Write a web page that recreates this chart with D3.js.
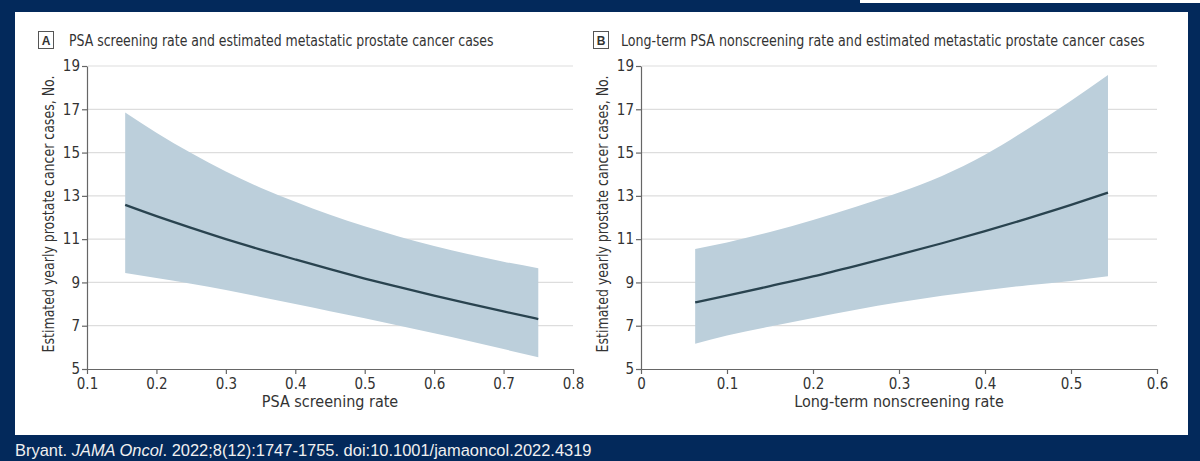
<!DOCTYPE html>
<html><head><meta charset="utf-8">
<script src="https://cdn.jsdelivr.net/npm/d3@7"></script>
<style>
html,body{margin:0;padding:0;background:#03295b;}
svg{display:block;}
.cond{font-family:"Liberation Sans Narrow","DejaVu Sans Condensed","Roboto Condensed","Open Sans",sans-serif;font-stretch:condensed;}
</style></head>
<body>
<svg id="chart" width="1200" height="461"></svg>
<script>
// ---------- data ----------
const yTicks = [5, 7, 9, 11, 13, 15, 17, 19];

const rateA  = [0.155, 0.2, 0.25, 0.3, 0.35, 0.4, 0.45, 0.5, 0.55, 0.6, 0.65, 0.7, 0.75];
const meanA  = [12.58, 12.06, 11.52, 11.0, 10.52, 10.06, 9.61, 9.18, 8.78, 8.39, 8.02, 7.66, 7.31];
const upperA = [16.85, 15.92, 14.98, 14.12, 13.38, 12.73, 12.13, 11.59, 11.11, 10.68, 10.3, 9.96, 9.66];
const lowerA = [9.43, 9.2, 8.94, 8.65, 8.33, 8.0, 7.67, 7.34, 7.0, 6.65, 6.29, 5.92, 5.54];
const xTicksA = [0.1, 0.2, 0.3, 0.4, 0.5, 0.6, 0.7, 0.8];

const rateB  = [0.063, 0.1, 0.15, 0.2, 0.25, 0.3, 0.35, 0.4, 0.45, 0.5, 0.543];
const meanB  = [8.08, 8.39, 8.83, 9.28, 9.77, 10.28, 10.81, 11.37, 11.96, 12.58, 13.15];
const upperB = [10.55, 10.85, 11.33, 11.89, 12.5, 13.15, 13.92, 14.9, 16.1, 17.4, 18.58];
const lowerB = [6.17, 6.55, 6.96, 7.36, 7.74, 8.08, 8.38, 8.64, 8.87, 9.07, 9.28];
const xTicksB = [0, 0.1, 0.2, 0.3, 0.4, 0.5, 0.6];

const titleA = "PSA screening rate and estimated metastatic prostate cancer cases";
const titleB = "Long-term PSA nonscreening rate and estimated metastatic prostate cancer cases";
const xLabelA = "PSA screening rate";
const xLabelB = "Long-term nonscreening rate";
const yLabel = "Estimated yearly prostate cancer cases, No.";
const caption = ["Bryant. ", "JAMA Oncol", ". 2022;8(12):1747-1755. doi:10.1001/jamaoncol.2022.4319"];

// ---------- drawing ----------
const svg = d3.select("#chart");
svg.append("rect").attr("x",0).attr("y",0).attr("width",1200).attr("height",461).attr("fill","#03295b");
svg.append("rect").attr("x",860).attr("y",0).attr("width",340).attr("height",3).attr("fill","#ffffff");
svg.append("rect").attr("x",15).attr("y",12).attr("width",1173).attr("height",423).attr("fill","#ffffff");

const y = d3.scaleLinear().domain([5,19]).range([369,66]);

// scale a text horizontally to a target width with a transform
function fitText(sel, x, yPos, width, rotate){
  const w = sel.node().getComputedTextLength();
  const s = width / w;
  if (rotate) sel.attr("transform", `translate(${x},${yPos}) rotate(-90) scale(${s},1)`);
  else sel.attr("transform", `translate(${x},${yPos}) scale(${s},1)`);
}

function panel(opts){
  const {x, rate, mean, upper, lower, xTicks, letter, title, titleX, titleW, boxX, xLabel, yLabelX, fmt} = opts;
  const g = svg.append("g");
  const x0 = x.range()[0], x1 = x.range()[1];

  // gridlines
  g.selectAll("line.grid").data(yTicks.slice(1)).join("line")
    .attr("x1", x0+1).attr("x2", x1).attr("y1", d=>y(d)).attr("y2", d=>y(d))
    .attr("stroke","#dddddd").attr("stroke-width",1.2);

  // band
  const pts = rate.map((r,i)=>({r, m:mean[i], u:upper[i], l:lower[i]}));
  g.append("path").datum(pts)
    .attr("d", d3.area().x(d=>x(d.r)).y0(d=>y(d.l)).y1(d=>y(d.u)).curve(d3.curveMonotoneX))
    .attr("fill","#bccfdb");
  g.append("path").datum(pts)
    .attr("d", d3.line().x(d=>x(d.r)).y(d=>y(d.m)).curve(d3.curveMonotoneX))
    .attr("fill","none").attr("stroke","#29434f").attr("stroke-width",2.3);

  // axes
  const ya = g.append("g").attr("transform",`translate(${x0},0)`)
    .call(d3.axisLeft(y).tickValues(yTicks).tickSize(5).tickSizeOuter(0).tickPadding(2));
  const xa = g.append("g").attr("transform",`translate(0,${y(5)})`)
    .call(d3.axisBottom(x).tickValues(xTicks).tickFormat(fmt).tickSize(5).tickSizeOuter(0).tickPadding(4));
  [ya, xa].forEach(a=>{
    a.select(".domain").attr("stroke","#666").attr("stroke-width",1.2);
    a.selectAll(".tick line").attr("stroke","#666").attr("stroke-width",1.2);
    a.selectAll(".tick text").attr("class","cond").attr("fill","#333").style("font-size","15px");
  });

  // letter box + title
  g.append("rect").attr("x",boxX+0.5).attr("y",31.5).attr("width",15).attr("height",17)
    .attr("fill","none").attr("stroke","#555").attr("stroke-width",1);
  g.append("text").attr("x",boxX+8).attr("y",45).attr("text-anchor","middle")
    .attr("font-family","Liberation Sans, Arial, sans-serif").attr("font-weight","bold")
    .attr("font-size",12).attr("fill","#333").text(letter);
  const t = g.append("text").attr("class","cond").attr("x",0).attr("y",0)
    .attr("font-size",16).attr("fill","#333").text(title);
  fitText(t, titleX, 46, titleW, false);

  // axis titles
  g.append("text").attr("class","cond").attr("x",(x0+x1)/2).attr("y",407)
    .attr("text-anchor","middle").attr("font-size",16).attr("fill","#333").text(xLabel);
  const yl = g.append("text").attr("class","cond").attr("x",0).attr("y",0)
    .attr("text-anchor","middle").attr("font-size",16).attr("fill","#333").text(yLabel);
  fitText(yl, yLabelX, 214, 277, true);
}

const fmtA = d3.format(".1f");
const fmtB = d=> d===0 ? "0" : d3.format(".1f")(d);

panel({x:d3.scaleLinear().domain([0.1,0.8]).range([87,573]), rate:rateA, mean:meanA, upper:upperA, lower:lowerA,
  xTicks:xTicksA, letter:"A", title:titleA, titleX:69, titleW:425, boxX:38, xLabel:xLabelA, yLabelX:54, fmt:fmtA});
panel({x:d3.scaleLinear().domain([0,0.6]).range([641,1157]), rate:rateB, mean:meanB, upper:upperB, lower:lowerB,
  xTicks:xTicksB, letter:"B", title:titleB, titleX:621, titleW:524, boxX:593, xLabel:xLabelB, yLabelX:608, fmt:fmtB});

// caption
const cap = svg.append("text").attr("x",0).attr("y",0)
  .attr("font-family","Liberation Sans, Arial, sans-serif").attr("font-size",16.5).attr("fill","#f0f0f0");
cap.append("tspan").text(caption[0]);
cap.append("tspan").attr("font-style","italic").text(caption[1]);
cap.append("tspan").text(caption[2]);
fitText(cap, 15, 456, 577, false);
</script>
</body></html>
